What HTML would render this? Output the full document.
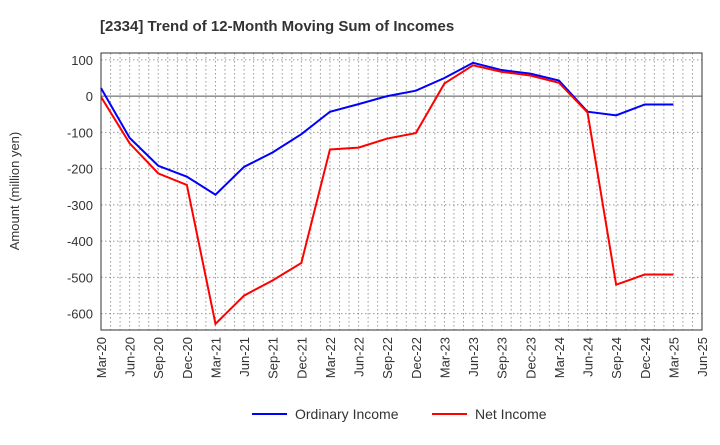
<!DOCTYPE html>
<html><head><meta charset="utf-8"><style>
body{margin:0;background:#fff;font-family:"Liberation Sans",sans-serif;}
</style></head><body>
<svg id="chart" width="720" height="440" xmlns="http://www.w3.org/2000/svg">
<text x="100" y="31" font-size="15" font-weight="bold" fill="#333">[2334]  Trend of 12-Month Moving Sum of Incomes</text>
<text transform="translate(19,191) rotate(-90)" text-anchor="middle" font-size="13" fill="#333">Amount (million yen)</text>
<g id="grid"></g><g id="axes"></g><g id="series"></g>
<g>
<line x1="252" y1="414" x2="287" y2="414" stroke="#0000ff" stroke-width="2"/>
<text x="295" y="419" font-size="14" fill="#333">Ordinary Income</text>
<line x1="432" y1="414" x2="467" y2="414" stroke="#ff0000" stroke-width="2"/>
<text x="475" y="419" font-size="14" fill="#333">Net Income</text>
</g>
</svg>
<script>
const categories=["Mar-20","Jun-20","Sep-20","Dec-20","Mar-21","Jun-21","Sep-21","Dec-21","Mar-22","Jun-22","Sep-22","Dec-22","Mar-23","Jun-23","Sep-23","Dec-23","Mar-24","Jun-24","Sep-24","Dec-24","Mar-25","Jun-25"];
const ordinaryIncome=[22,-115,-192,-222,-272,-195,-155,-105,-43,-22,0,15,50,92,72,62,43,-43,-53,-23,-23];
const netIncome=[-2,-130,-213,-245,-628,-550,-508,-460,-147,-142,-117,-102,35,85,67,57,37,-45,-520,-492,-492];
const yTicks=[100,0,-100,-200,-300,-400,-500,-600];
const L=101,R=702,T=53,B=330,yMax=119,yMin=-645;
const NS="http://www.w3.org/2000/svg";
const step=(R-L)/(categories.length-1);
const xs=i=>L+i*step;
const ys=v=>T+(yMax-v)/(yMax-yMin)*(B-T);
function mk(tag,attrs,parent){const e=document.createElementNS(NS,tag);for(const k in attrs)e.setAttribute(k,attrs[k]);parent.appendChild(e);return e;}
const grid=document.getElementById('grid'),axes=document.getElementById('axes'),series=document.getElementById('series');
for(let m=1;m<(categories.length-1)*3;m++){const x=L+m*step/3;
 const g=mk('line',{x1:x,x2:x,y1:T,y2:B,stroke:'#999','stroke-dasharray':'1.5,2.5','stroke-width':1},grid);
 
 }
yTicks.forEach(v=>{const y=ys(v);
 const g=mk('line',{x1:L,x2:R,y1:y,y2:y,stroke:v===0?'#555':'#999','stroke-dasharray':v===0?'':'1.5,2.5','stroke-width':1},grid);
 
 
 const t=mk('text',{x:L-8,y:y+5,'text-anchor':'end','font-size':13,fill:'#333'},axes);t.textContent=v;
 
 });
const fr=mk('rect',{x:L,y:T,width:R-L,height:B-T,fill:'none',stroke:'#333','stroke-width':1},axes);


categories.forEach((c,i)=>{const x=xs(i);
 const t=mk('text',{transform:`translate(${x+5},${B+7}) rotate(-90)`,'text-anchor':'end','font-size':13,fill:'#333'},axes);t.textContent=c;
 
 });
function line(data,color,name){
 const p=mk('polyline',{points:data.map((v,i)=>xs(i)+','+ys(v)).join(' '),fill:'none',stroke:color,'stroke-width':2},series);
 
 }
line(ordinaryIncome,'#0000ff','ordinary-income-line');
line(netIncome,'#ff0000','net-income-line');
</script>
</body></html>
